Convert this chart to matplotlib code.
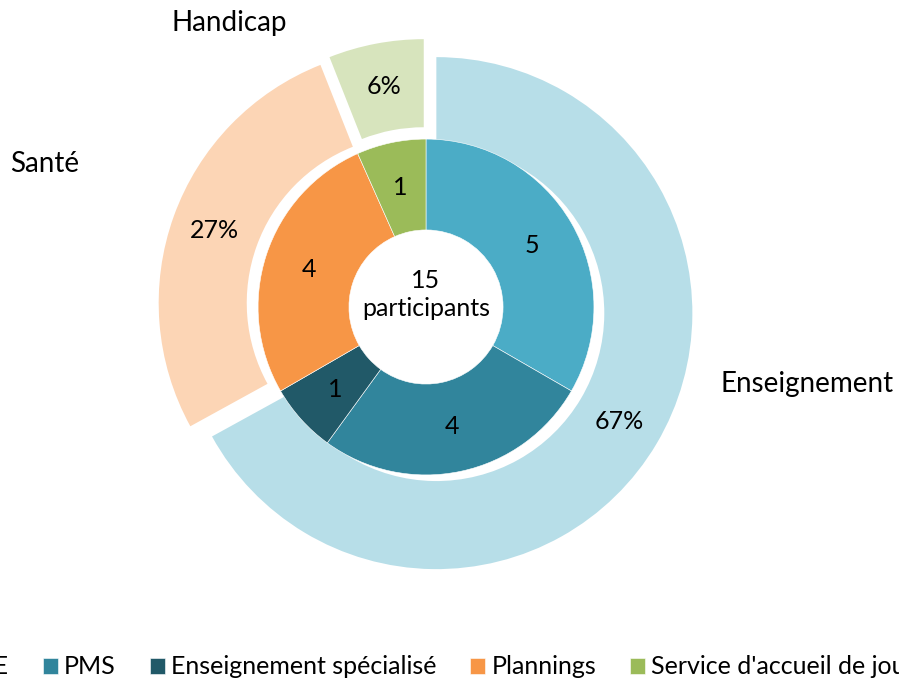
import matplotlib
matplotlib.use('Agg')
import matplotlib.pyplot as plt

plt.rcParams['font.family'] = ['Lato', 'DejaVu Sans']

# anneau interieur : services
services = ['PSE', 'PMS', 'Enseignement spécialisé', 'Plannings', "Service d'accueil de jour"]
participants = [5, 4, 1, 4, 1]
couleurs_int = ['#4BACC6', '#31859C', '#215968', '#F79646', '#9BBB59']

# anneau exterieur : secteurs (en %)
secteurs = ['Enseignement', 'Santé', 'Handicap']
secteurs_pct = [67, 27, 6]
couleurs_ext = ['#B7DEE8', '#FCD5B5', '#D7E4BD']

total = sum(participants)

fig = plt.figure(figsize=(8.99, 6.82), dpi=100)
ax = fig.add_axes([0, 0, 1, 1])

# exterieur (eclate)
w_ext, t_ext, p_ext = ax.pie(secteurs_pct, radius=1.0, colors=couleurs_ext,
                             startangle=90, counterclock=False,
                             explode=[0.047] * len(secteurs_pct),
                             autopct=lambda p: '%d%%' % round(p), pctdistance=0.83,
                             wedgeprops=dict(width=0.344, linewidth=0),
                             textprops=dict(fontsize=18, color='black'))

# interieur
w_int, t_int, p_int = ax.pie(participants, radius=0.656, colors=couleurs_int,
                             startangle=90, counterclock=False,
                             autopct=lambda p: '%d' % round(p * total / 100), pctdistance=0.73,
                             wedgeprops=dict(width=0.355, linewidth=0.4, edgecolor='white'),
                             textprops=dict(fontsize=18, color='black'))

ax.text(0.0, 0.05, '%d\nparticipants' % total, ha='center', va='center', fontsize=18, linespacing=1.25)

# noms des secteurs
ax.text(1.49, -0.30, secteurs[0], ha='center', va='center', fontsize=20)
ax.text(-1.49, 0.56, secteurs[1], ha='center', va='center', fontsize=20)
ax.text(-0.77, 1.11, secteurs[2], ha='center', va='center', fontsize=20)

ax.set_xlim(-426 / 256, (899 - 426) / 256)
ax.set_ylim(-(682 - 307) / 256, 307 / 256)
ax.axis('off')

# legende plus large que la figure (coupee comme dans l'original)
fig.legend(w_int, services, loc='center', bbox_to_anchor=(0.478, 0.022), ncol=5,
           frameon=False, fontsize=18, handlelength=0.6, handleheight=0.6,
           handletextpad=0.25, columnspacing=1.35)

fig.savefig('out.png', dpi=100)
